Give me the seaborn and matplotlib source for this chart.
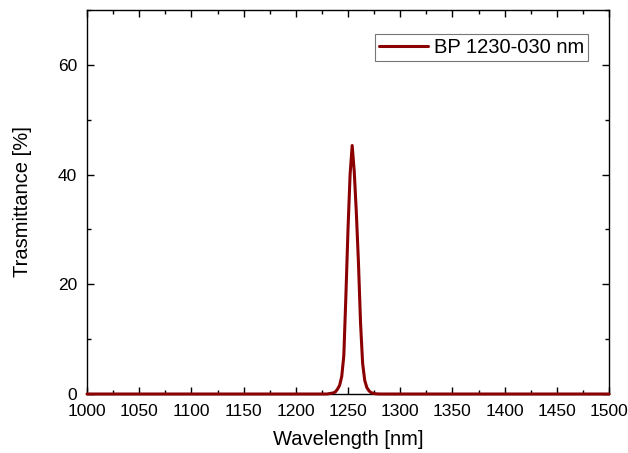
import matplotlib
matplotlib.use("Agg")
import matplotlib.pyplot as plt
from matplotlib.ticker import MultipleLocator
import seaborn as sns
import pandas as pd

wavelength = [1000, 1100, 1200, 1230, 1236, 1238, 1240, 1242, 1244, 1246, 1248, 1250,
              1252, 1254, 1256, 1258, 1260, 1262, 1264, 1266, 1268, 1270, 1272,
              1276, 1280, 1300, 1400, 1500]
transmittance = [0, 0, 0, 0, 0.2, 0.4, 0.9, 1.6, 3.2, 7.0, 18.0, 30.0,
                 40.0, 45.3, 40.5, 33.0, 24.0, 13.0, 5.6, 2.5, 1.2, 0.6, 0.25,
                 0.05, 0, 0, 0, 0]
series_label = "BP 1230-030 nm"

df = pd.DataFrame({"Wavelength": wavelength, "T": transmittance})

sns.set_style("ticks")
plt.rcParams["font.family"] = ["Liberation Sans", "DejaVu Sans"]
plt.rcParams["text.color"] = "black"
plt.rcParams["axes.labelcolor"] = "black"

fig = plt.figure(figsize=(6.28, 4.53), dpi=100)
ax = fig.add_axes([87/628, 59/453, 522/628, 384/453])

sns.lineplot(data=df, x="Wavelength", y="T", ax=ax, color="#8B0000",
             linewidth=2.2, label=series_label, clip_on=False, zorder=5)

ax.set_xlim(1000, 1500)
ax.set_ylim(0, 70)
ax.xaxis.set_major_locator(MultipleLocator(50))
ax.xaxis.set_minor_locator(MultipleLocator(25))
ax.yaxis.set_major_locator(MultipleLocator(20))
ax.yaxis.set_minor_locator(MultipleLocator(10))
ax.tick_params(which="both", direction="in", top=True, right=True,
               labelsize=12.5, colors="black", labelcolor="black", width=1)
ax.tick_params(which="major", length=5)
ax.tick_params(which="minor", length=3)
ax.tick_params(axis="x", which="major", pad=7)
ax.tick_params(axis="y", which="major", pad=7)
for s in ax.spines.values():
    s.set_color("black")
    s.set_linewidth(1)

ax.set_xlabel("Wavelength [nm]", fontsize=14.5, labelpad=8, color="black")
ax.set_ylabel("Trasmittance [%]", fontsize=14.5, labelpad=19, color="black")

leg = ax.legend(loc="upper right", bbox_to_anchor=(0.960, 0.937), fontsize=14.5,
                frameon=True, fancybox=False, handlelength=2.4, handletextpad=0.3,
                borderpad=0.2, borderaxespad=0)
leg.get_frame().set_edgecolor("#555555")
leg.get_frame().set_linewidth(0.8)
for t in leg.get_texts():
    t.set_color("black")

fig.savefig("out.png", dpi=100)
